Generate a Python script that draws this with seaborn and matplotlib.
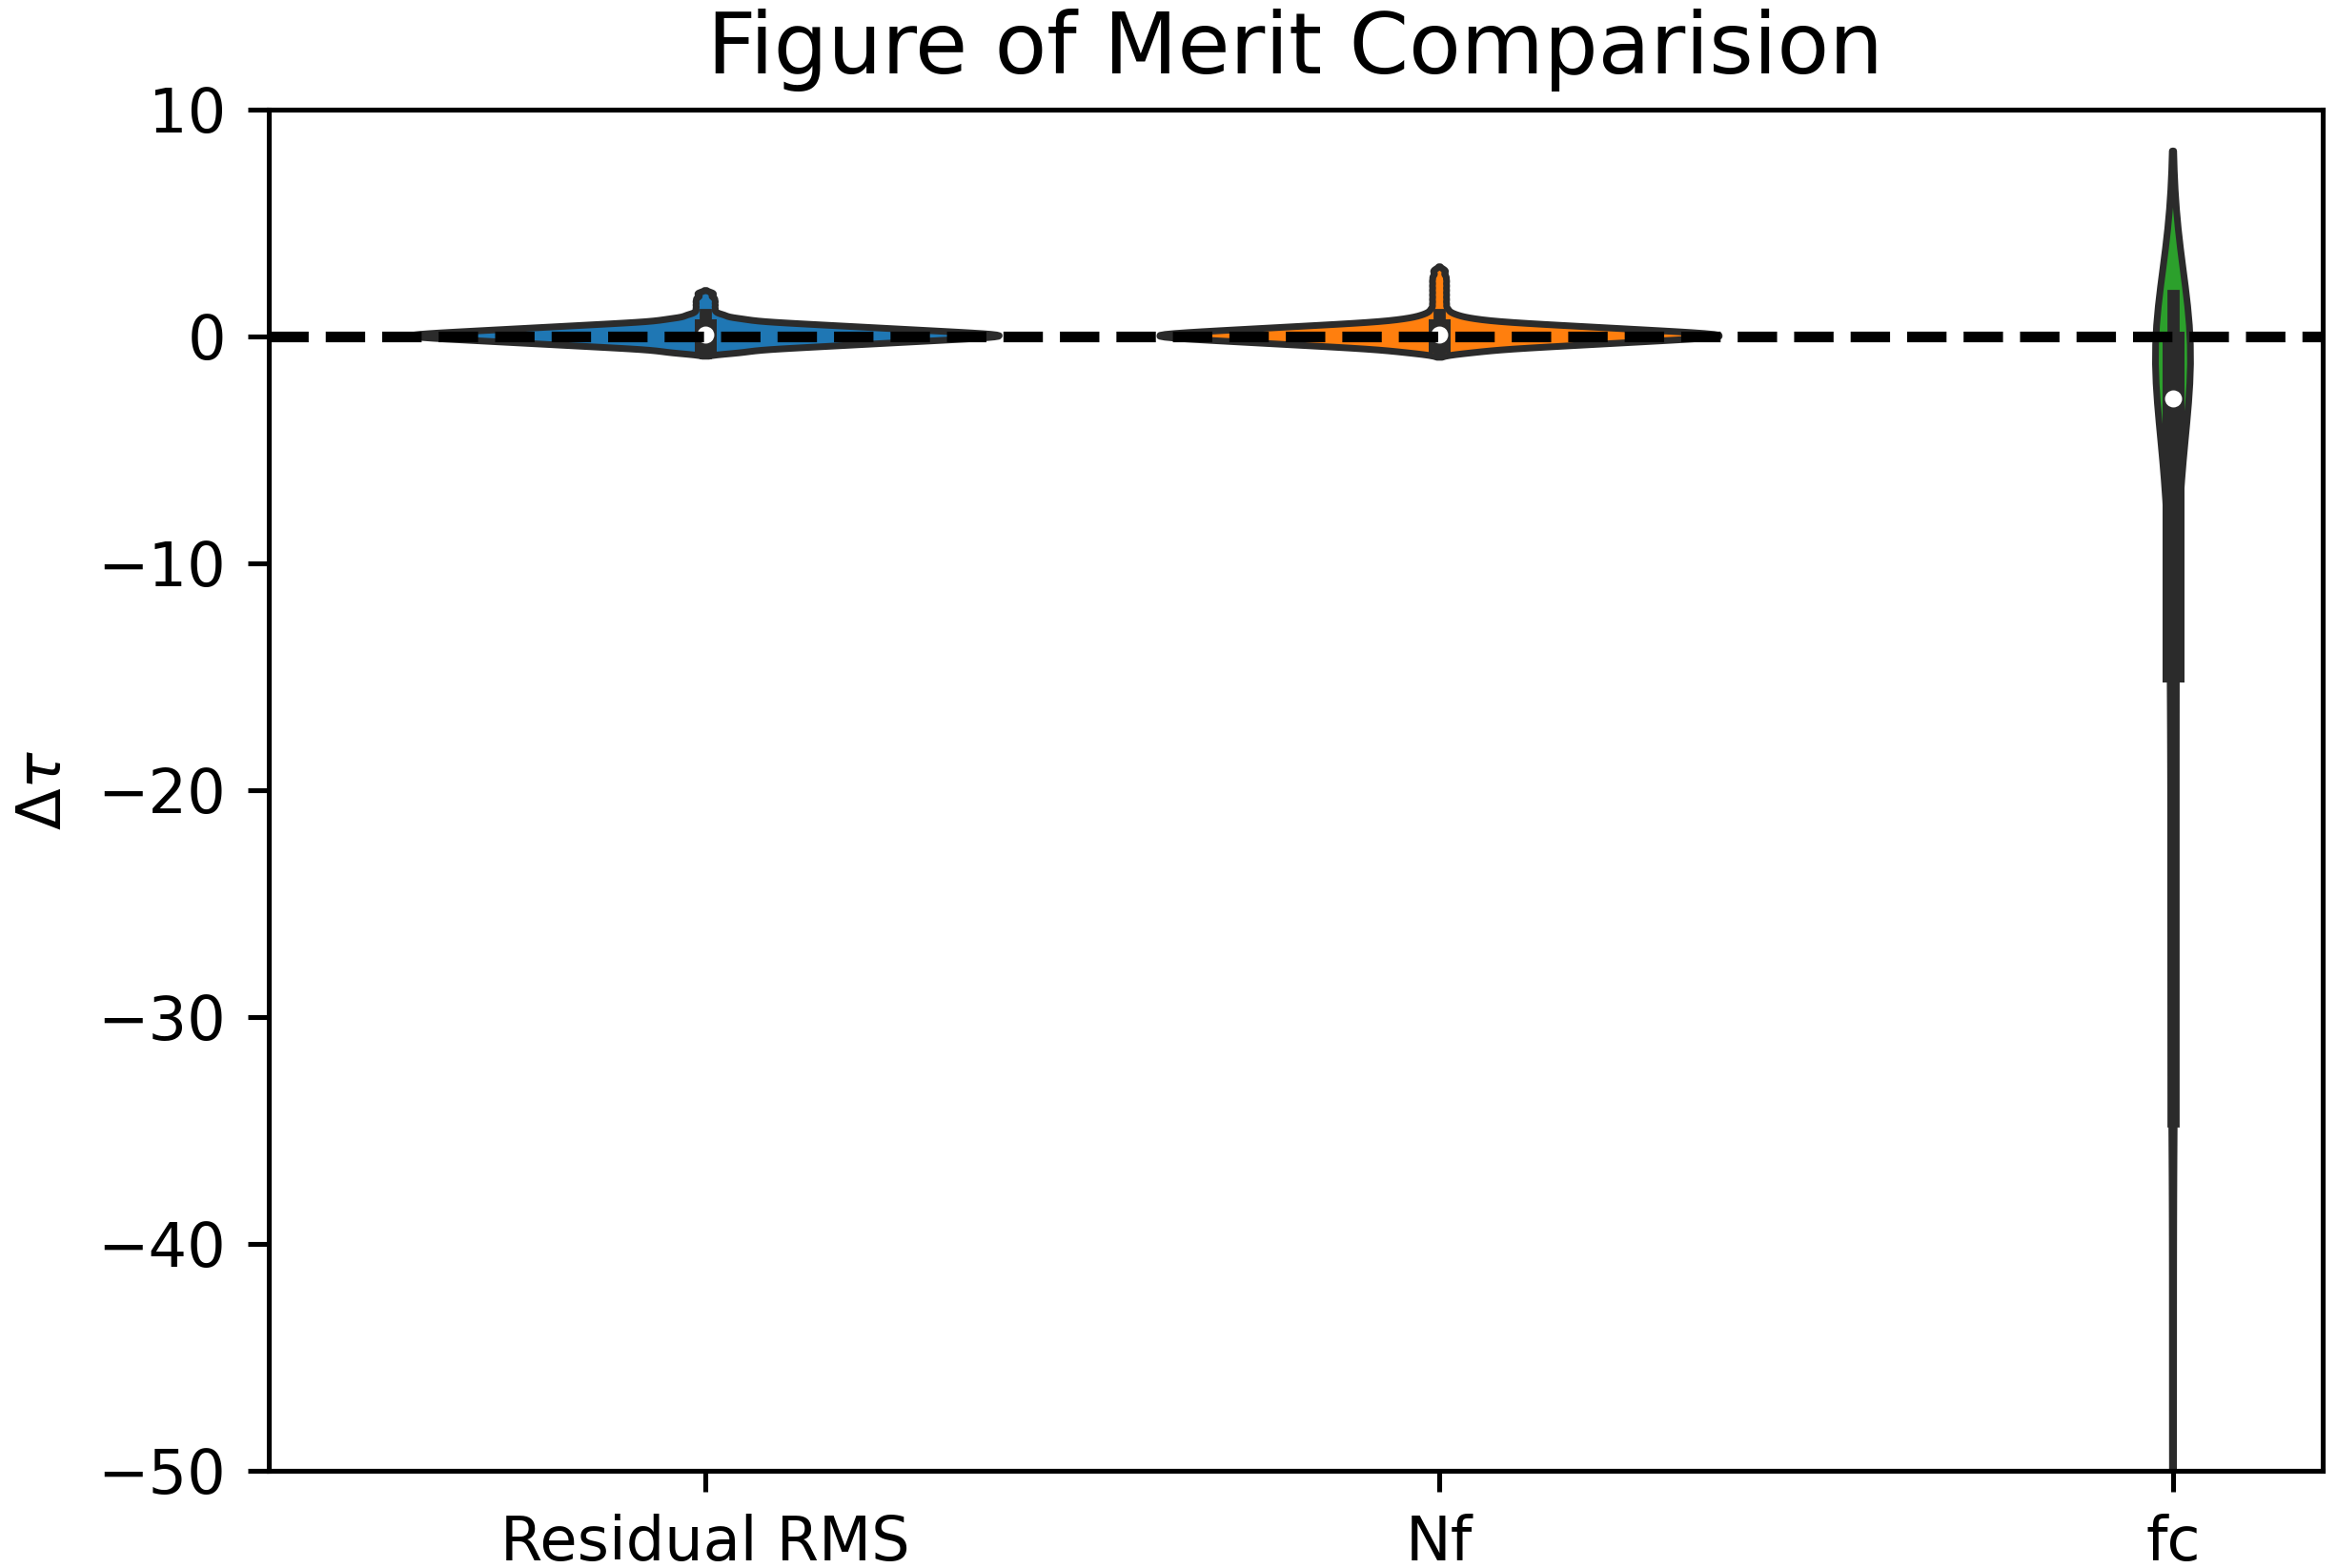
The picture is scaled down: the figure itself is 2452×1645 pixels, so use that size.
import numpy as np
import pandas as pd
import matplotlib
matplotlib.use("Agg")
import matplotlib.pyplot as plt
import seaborn as sns

# ---------------- data (read/estimated from the picture) ----------------
categories = ["Residual RMS", "Nf", "fc"]

# Residual RMS: observed delta-tau values and how many runs gave each value
rms_values = [-0.7, -0.6, -0.5, -0.4, -0.3, -0.2, -0.1, 0.0, 0.1, 0.2,
              0.3, 0.4, 0.5, 0.6, 0.7, 0.8, 0.95, 1.1, 1.25, 1.4, 1.55,
              1.7, 1.9]
rms_counts = [3, 3, 6, 9, 12, 15, 18, 21, 21, 18, 15, 12, 9, 6, 3, 3,
              2, 1, 1, 1, 1, 1, 1]

# Nf
nf_values = [-0.7, -0.6, -0.5, -0.4, -0.3, -0.2, -0.1, 0.0, 0.1, 0.2,
             0.3, 0.4, 0.5, 0.6, 0.7, 0.8, 0.95, 1.1, 1.25, 1.45, 1.65,
             1.85, 2.05, 2.25, 2.45, 2.65, 2.9]
nf_counts = [3, 3, 6, 9, 12, 15, 18, 21, 21, 18, 15, 12, 9, 6, 3, 3,
             2, 1, 1, 1, 1, 1, 1, 1, 1, 1, 1]

# fc
fc_values = [1.8, 1.4, 1.0, 0.6, 0.2,
             -0.4, -0.9, -1.4, -1.9, -2.6,
             -2.9, -3.6, -4.5, -5.5, -6.5, -7.6, -8.8, -10.2, -11.8, -13.3, -14.6,
             -15.2, -18.0, -20.8, -23.5, -26.0, -28.5, -31.0, -33.0, -34.6,
             -39.0, -44.0, -49.0, -55.0, -62.0, -70.0]
fc_counts = [1, 3, 5, 6, 6,
             5, 5, 4, 4, 3,
             2, 3, 3, 2, 2, 2, 2, 2, 1, 1, 1,
             2, 2, 2, 2, 2, 2, 1, 1, 1,
             1, 1, 1, 1, 1, 1]

colors = ["#1f77b4", "#ff7f0e", "#2ca02c"]
title = "Figure of Merit Comparision"
ylabel = r"$\Delta\tau$"
reference_level = 0
y_limits = (-50, 10)
y_ticks = [-50, -40, -30, -20, -10, 0, 10]

# ---------------- build long table ----------------
frames = []
for cat, vals, cnts in zip(categories,
                           [rms_values, nf_values, fc_values],
                           [rms_counts, nf_counts, fc_counts]):
    obs = np.repeat(np.asarray(vals, dtype=float), cnts)
    frames.append(pd.DataFrame({"metric": cat, "delta_tau": obs}))
df = pd.concat(frames, ignore_index=True)

# ---------------- figure ----------------
DPI = 460
fig = plt.figure(figsize=(2452 / DPI, 1645 / DPI), dpi=DPI)
ax = fig.add_axes([281.7 / 2452, (1645 - 1543) / 1645,
                   (2437 - 281.7) / 2452, (1543 - 115) / 1645])

sns.violinplot(data=df, x="metric", y="delta_tau", hue="metric",
               order=categories, hue_order=categories, palette=colors,
               saturation=1, legend=False, inner="box", bw_adjust=0.5,
               cut=2, density_norm="area", common_norm=True, width=0.8,
               linewidth=1.1, linecolor="#2b2b2b",
               inner_kws=dict(box_width=3.6, whis_width=2.0, marker="o",
                              markersize=2.2, markeredgewidth=0.6),
               ax=ax)

ax.axhline(reference_level, color="black", linestyle="--", linewidth=1.75,
           zorder=10)

ax.set_xlim(-0.595, 2.204)
ax.set_ylim(*y_limits)
ax.set_yticks(y_ticks)
ax.set_xlabel("")
ax.set_ylabel(ylabel, fontsize=10)
ax.set_title(title, fontsize=14)
ax.tick_params(labelsize=10)

fig.savefig("out.png", dpi=DPI)
